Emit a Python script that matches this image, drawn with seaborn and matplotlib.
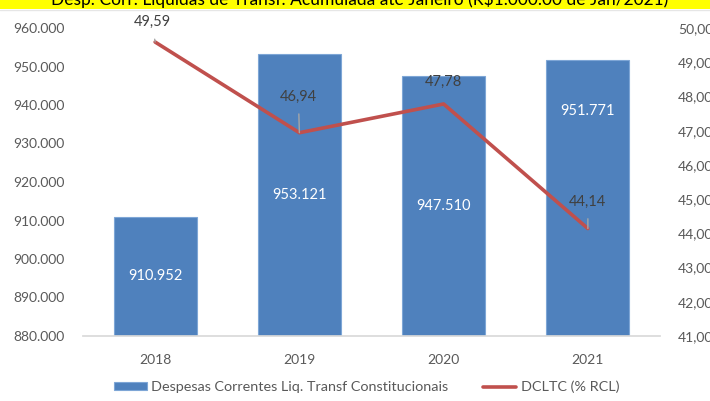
import numpy as np
import pandas as pd
import matplotlib.pyplot as plt
import seaborn as sns
from matplotlib.patches import Rectangle
from matplotlib.ticker import FuncFormatter

anos = ["2018", "2019", "2020", "2021"]
despesas = [910952, 953121, 947510, 951771]
dcltc = [49.59, 46.94, 47.78, 44.14]
# label offsets (pixels) for the line labels, and whether a leader is drawn
rot_offsets = [(-3, 20), (-1, 36), (0, 22), (0, 27)]
rot_leader = [True, True, False, True]
# the 2021 bar label was moved up near the top of its bar (pixels above the centre)
barra_shift = {3: 87}

titulo = "Desp. Corr. Líquidas de Transf. Acumulada até Janeiro (R$1.000.00 de Jan/2021)"

sns.set_theme(style="white")
plt.rcParams['font.family'] = ['Lato', 'DejaVu Sans']

df = pd.DataFrame({'ano': anos, 'despesas': despesas, 'dcltc': dcltc})

fig = plt.figure(figsize=(7.1, 4.01), dpi=100)
ax = fig.add_axes([83 / 710, 1 - 336 / 401, 577 / 710, 308 / 401])

sns.barplot(data=df, x='ano', y='despesas', color='#4F81BD', saturation=1,
            width=0.575, edgecolor='#7EA6D6', linewidth=0.8, ax=ax,
            label='Despesas Correntes Liq. Transf Constitucionais')
ax.set_ylim(880000, 960000)
ax.set_yticks(np.arange(880000, 960001, 10000))
ax.yaxis.set_major_formatter(FuncFormatter(lambda v, p: f"{v / 1000:.3f}"))
ax.set_xlabel('')
ax.set_ylabel('')

for i, v in enumerate(despesas):
    ax.annotate(f"{v / 1000:.3f}", xy=(i, (880000 + v) / 2), xytext=(0, barra_shift.get(i, 0)),
                textcoords='offset pixels', ha='center', va='center',
                color='white', fontsize=10.5)

ax2 = ax.twinx()
sns.lineplot(x=np.arange(len(anos)), y=dcltc, color='#C0504D', linewidth=2.6,
             ax=ax2, label='DCLTC (% RCL)', legend=False)
ax2.set_ylim(41, 50)
ax2.set_yticks(np.arange(41, 50.01, 1))
ax2.yaxis.set_major_formatter(FuncFormatter(lambda v, p: f"{v:.2f}".replace(".", ",")))

for i, v in enumerate(dcltc):
    dx, dy = rot_offsets[i]
    props = dict(arrowstyle='-', color='#A6A6A6', lw=1, shrinkA=5, shrinkB=0) if rot_leader[i] else None
    ax2.annotate(f"{v:.2f}".replace(".", ","), xy=(i, v), xytext=(dx, dy),
                 textcoords='offset pixels', ha='center', va='center',
                 color='#404040', fontsize=10.5, arrowprops=props)

for a in (ax, ax2):
    for s in ('top', 'left', 'right'):
        a.spines[s].set_visible(False)
    a.spines['bottom'].set_color('#D9D9D9')
    a.tick_params(length=0, labelsize=10, labelcolor='#595959', pad=13)
ax2.spines['bottom'].set_visible(False)
ax.set_xlim(-0.5, 3.5)

h1, l1 = ax.get_legend_handles_labels()
h2, l2 = ax2.get_legend_handles_labels()
if ax.get_legend():
    ax.get_legend().remove()
fig.legend(h1 + h2, l1 + l2, loc='center', bbox_to_anchor=(0.516, 1 - 387 / 401),
           ncol=2, frameon=False, fontsize=10.4, handlelength=2.3, handleheight=0.5,
           handletextpad=0.3, columnspacing=2.4, labelcolor='#595959',
           borderpad=0)

# yellow title band, clipped at the top edge
fig.patches.append(Rectangle((0, 1 - 9 / 401), 1, 9 / 401, transform=fig.transFigure,
                             facecolor='#FFFF00', edgecolor='none', zorder=0))
fig.add_artist(plt.Line2D([0, 1], [1 - 9.5 / 401] * 2, transform=fig.transFigure,
                          color='#E6E6E6', lw=1))
fig.text(0.507, 1 - 4.5 / 401, titulo, ha='center', va='baseline', fontsize=12.5,
         color='black')

plt.savefig('out.png', dpi=100)
